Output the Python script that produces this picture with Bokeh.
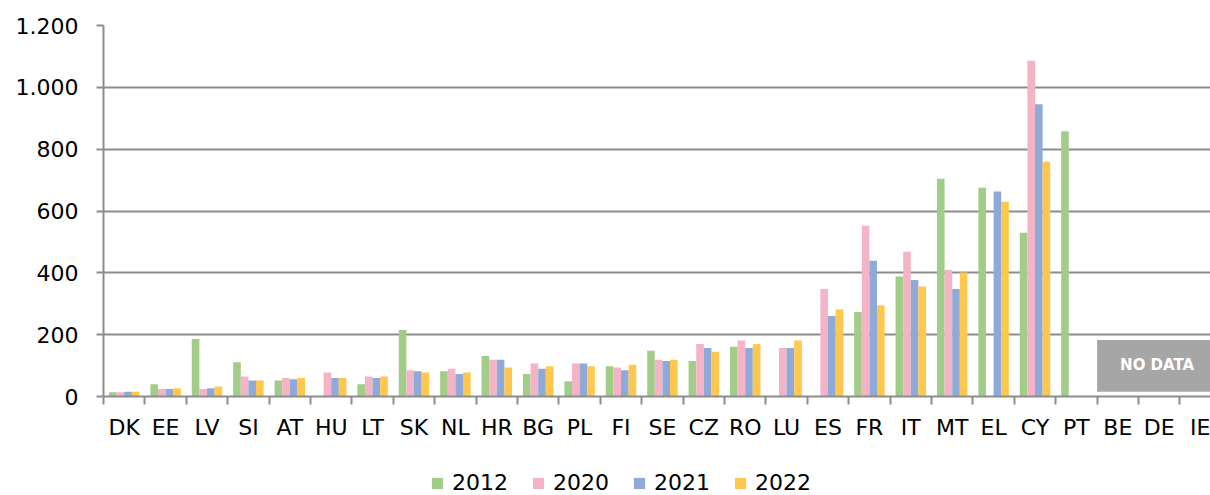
from bokeh.plotting import figure
from bokeh.layouts import column
from bokeh.models import (ColumnDataSource, Range1d, FixedTicker, Legend, LegendItem,
                          BoxAnnotation, Label)
from bokeh.embed import file_html
from bokeh.resources import INLINE

countries = ["DK", "EE", "LV", "SI", "AT", "HU", "LT", "SK", "NL", "HR", "BG", "PL", "FI",
             "SE", "CZ", "RO", "LU", "ES", "FR", "IT", "MT", "EL", "CY", "PT", "BE", "DE", "IE"]
N = None
v2012 = [14, 40, 186, 111, 52, N, 40, 215, 82, 131, 73, 49, 98, 148, 115, 161, N, N, 273, 388,
         704, 675, 530, 858, N, N, N]
v2020 = [14, 24, 24, 65, 60, 78, 65, 85, 90, 119, 107, 107, 94, 119, 170, 181, 157, 348, 552, 468,
         410, N, 1086, N, N, N, N]
v2021 = [15, 24, 27, 52, 56, 60, 60, 82, 73, 119, 90, 107, 85, 115, 157, 157, 157, 260, 439, 377,
         348, 663, 945, N, N, N, N]
v2022 = [15, 27, 32, 52, 60, 60, 65, 78, 78, 94, 98, 98, 103, 119, 145, 170, 181, 281, 294, 356,
         401, 630, 759, N, N, N, N]
series_names = ["2012", "2020", "2021", "2022"]
series_values = [v2012, v2020, v2021, v2022]
colors = ["#a1cd89", "#f5b4c6", "#8faad8", "#ffc74e"]
nodata = ["BE", "DE", "IE"]
y_ticks = [0, 200, 400, 600, 800, 1000, 1200]

GRAY = "#8c8c8c"
FONT = "DejaVu Sans"
W = 1210
H_MAIN, H_LEG = 455, 40
LEFT, TOP, BOTTOM = 103, 25, 59
PITCH = 41.4

p = figure(width=W, height=H_MAIN, output_backend="svg", toolbar_location=None,
           x_range=Range1d(0, (W - LEFT) / PITCH), y_range=Range1d(0, 1200),
           min_border_left=LEFT, min_border_right=0, min_border_top=TOP,
           min_border_bottom=BOTTOM)
p.outline_line_color = None

bw = 0.184
for j, (name, vals, col) in enumerate(zip(series_names, series_values, colors)):
    xs, tops = [], []
    for i, v in enumerate(vals):
        if v is not None:
            xs.append(i + 0.5 + (j - 1.5) * bw)
            tops.append(v)
    src = ColumnDataSource(dict(x=xs, top=tops))
    p.vbar(x="x", top="top", bottom=0, width=bw, source=src, fill_color=col, line_color=None)

# x axis: labels at category centres, tick marks at category boundaries
centers = [i + 0.5 for i in range(len(countries))]
bounds = [i for i in range(len(countries) + 1)]
p.xaxis.ticker = FixedTicker(ticks=centers, minor_ticks=bounds)
p.xaxis.major_label_overrides = {c: n for c, n in zip(centers, countries)}
p.xaxis.major_tick_line_color = None
p.xaxis.major_tick_out = 0
p.xaxis.major_tick_in = 0
p.xaxis.minor_tick_line_color = GRAY
p.xaxis.minor_tick_line_width = 2
p.xaxis.minor_tick_out = 8
p.xaxis.minor_tick_in = 0
p.xaxis.axis_line_color = GRAY
p.xaxis.axis_line_width = 2
p.xaxis.major_label_text_font = FONT
p.xaxis.major_label_text_font_size = "22px"
p.xaxis.major_label_text_color = "black"
p.xaxis.major_label_standoff = 10

p.yaxis.ticker = FixedTicker(ticks=y_ticks, minor_ticks=[])
p.yaxis.major_label_overrides = {t: f"{t:,}".replace(",", ".") for t in y_ticks}
p.yaxis.major_tick_line_color = GRAY
p.yaxis.major_tick_line_width = 2
p.yaxis.major_tick_out = 7
p.yaxis.major_tick_in = 0
p.yaxis.minor_tick_line_color = None
p.yaxis.axis_line_color = GRAY
p.yaxis.axis_line_width = 2
p.yaxis.major_label_text_font = FONT
p.yaxis.major_label_text_font_size = "22px"
p.yaxis.major_label_text_color = "black"
p.yaxis.major_label_standoff = 18

p.xgrid.grid_line_color = None
p.ygrid.ticker = FixedTicker(ticks=y_ticks)
p.ygrid.grid_line_color = GRAY
p.ygrid.grid_line_width = 2

# NO DATA box
nd_start = countries.index(nodata[0])
nd_end = nd_start + len(nodata)
box = BoxAnnotation(left=nd_start, right=nd_end, bottom=15, top=183,
                    fill_color="#a6a6a6", fill_alpha=1.0, line_color=None)
p.add_layout(box)
p.add_layout(Label(x=(nd_start + nd_end) / 2 - 0.05, y=(15 + 183) / 2 + 4, text="NO DATA",
                   text_font=FONT, text_font_size="15px", text_font_style="bold",
                   text_color="white", text_align="center", text_baseline="middle"))

# legend strip (its frame is aligned with the main frame by the column layout)
lf = figure(width=W, height=H_LEG, output_backend="svg", toolbar_location=None,
            x_range=Range1d(0, W - LEFT), y_range=Range1d(0, H_LEG),
            x_axis_location=None, y_axis_location=None,
            min_border_left=LEFT, min_border_right=0, min_border_top=0, min_border_bottom=0)
lf.outline_line_color = None
lf.xgrid.grid_line_color = None
lf.ygrid.grid_line_color = None
items = []
for name, col in zip(series_names, colors):
    # legend proxy: a block placed outside the visible range
    r = lf.quad(left=[-1000], right=[-999], bottom=[-1000], top=[-999],
                fill_color=col, line_color=None)
    items.append(LegendItem(label=name, renderers=[r]))
legend = Legend(items=items, orientation="horizontal", location=(430 - LEFT, 0))
legend.label_text_font = FONT
legend.label_text_font_size = "22px"
legend.label_text_color = "black"
legend.glyph_width = 14
legend.glyph_height = 14
legend.label_standoff = 8
legend.spacing = 23
legend.padding = 0
legend.margin = 0
legend.border_line_color = None
legend.background_fill_alpha = 0
lf.add_layout(legend, "center")

layout = column(p, lf, spacing=0)
open("out.html", "w").write(file_html(layout, INLINE))
